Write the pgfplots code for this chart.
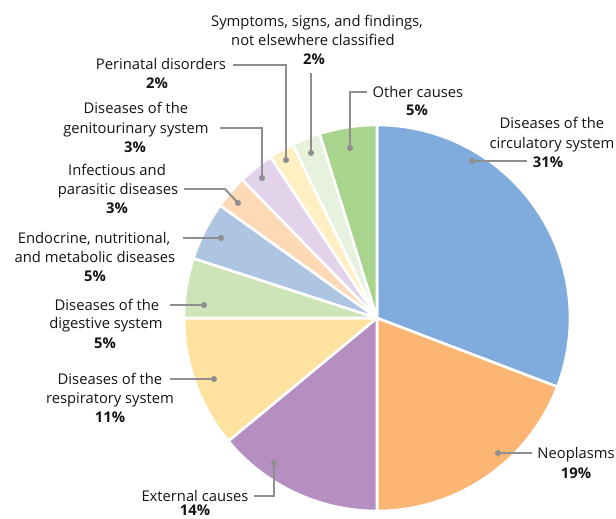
\documentclass[border=0pt]{standalone}
\usepackage{pgfplots}
\usepackage{pgfplotstable}
\pgfplotsset{compat=1.18}
\usepackage{fontspec}
\setmainfont{Open Sans}

\definecolor{cCirc}{HTML}{7FABDD}
\definecolor{cNeo}{HTML}{FBB673}
\definecolor{cExt}{HTML}{B68FC1}
\definecolor{cResp}{HTML}{FFE2A0}
\definecolor{cDig}{HTML}{CDE4B8}
\definecolor{cEndo}{HTML}{ADC4E2}
\definecolor{cInf}{HTML}{FDD9B5}
\definecolor{cGen}{HTML}{E2D3EA}
\definecolor{cPeri}{HTML}{FFEFC2}
\definecolor{cSymp}{HTML}{E7F2DE}
\definecolor{cOther}{HTML}{A9D48E}
\definecolor{leader}{HTML}{8E8E8E}
\definecolor{txt}{HTML}{141414}

% share of deaths, clockwise from 12 o'clock
\pgfplotstableread[col sep=comma]{
value,color
30.8,cCirc
19.2,cNeo
14.0,cExt
11.0,cResp
5.0,cDig
4.9,cEndo
2.8,cInf
3.0,cGen
2.1,cPeri
2.4,cSymp
4.8,cOther
}\piedata

\newcommand{\R}{5.79cm}
\newcommand{\lbl}[3]{\node[anchor=base,text=txt,font=\fontsize{12.6}{15}\selectfont,inner sep=0pt] at (axis cs:#1,{#2+5}) {#3};}
\newcommand{\dotl}[1]{\fill[leader] (axis cs:#1) circle[radius=2.6pt];}

\begin{document}
\begin{tikzpicture}
  \begin{axis}[
      scale only axis,
      width=18.48cm, height=15.57cm,
      xmin=0, xmax=616, ymin=0, ymax=519,
      y dir=reverse,
      hide axis,
      clip=false,
    ]
    \def\cum{0}
    \pgfplotsforeachungrouped \i in {0,...,10}{%
      \pgfplotstablegetelem{\i}{value}\of\piedata \let\v\pgfplotsretval
      \pgfplotstablegetelem{\i}{color}\of\piedata \let\c\pgfplotsretval
      \pgfmathsetmacro\a{90-3.6*\cum}
      \pgfmathsetmacro\b{90-3.6*(\cum+\v)}
      \edef\temp{\noexpand\fill[\c, draw=white, line width=2.2pt, line join=round]
        (axis cs:377,318) -- ++(\a:\R) arc[start angle=\a, end angle=\b, radius=\R] -- cycle;}
      \temp
      \pgfmathsetmacro\cum{\cum+\v}
    }

    % leader lines
    \begin{scope}[leader, line width=1.7pt]
      \draw (axis cs:472,161) -- (axis cs:527,161);
      \draw (axis cs:498,453) -- (axis cs:532,453);
      \draw (axis cs:274,463) -- (axis cs:274,496) -- (axis cs:254,496);
      \draw (axis cs:214,379) -- (axis cs:170,379);
      \draw (axis cs:204,305) -- (axis cs:170,305);
      \draw (axis cs:221,238) -- (axis cs:183,238);
      \draw (axis cs:238,203) -- (axis cs:225,189) -- (axis cs:184,189);
      \draw (axis cs:262,178) -- (axis cs:262,128) -- (axis cs:220,128);
      \draw (axis cs:286,160) -- (axis cs:286,65) -- (axis cs:233,65);
      \draw (axis cs:311,153) -- (axis cs:311,73);
      \draw (axis cs:350,148) -- (axis cs:350,92) -- (axis cs:367,92);
    \end{scope}
    \dotl{472,161}\dotl{498,453}\dotl{274,463}\dotl{214,379}\dotl{204,305}
    \dotl{221,238}\dotl{238,203}\dotl{262,178}\dotl{286,160}\dotl{311,153}\dotl{350,148}

    % labels
    \lbl{552}{124}{Diseases of the}
    \lbl{552}{143}{circulatory system}
    \lbl{548}{162}{\bfseries 31\%}
    \lbl{576}{453}{Neoplasms}
    \lbl{576}{473}{\bfseries 19\%}
    \lbl{195}{496}{External causes}
    \lbl{195}{510}{\bfseries 14\%}
    \lbl{110}{379}{Diseases of the}
    \lbl{110}{398}{respiratory system}
    \lbl{110}{417}{\bfseries 11\%}
    \lbl{107}{305}{Diseases of the}
    \lbl{106}{323}{digestive system}
    \lbl{105}{343}{\bfseries 5\%}
    \lbl{94}{238}{Endocrine, nutritional,}
    \lbl{95}{257}{and metabolic diseases}
    \lbl{95}{276}{\bfseries 5\%}
    \lbl{117}{170}{Infectious and}
    \lbl{118}{189}{parasitic diseases}
    \lbl{117}{208}{\bfseries 3\%}
    \lbl{136}{109}{Diseases of the}
    \lbl{136}{128}{genitourinary system}
    \lbl{135}{147}{\bfseries 3\%}
    \lbl{161}{65}{Perinatal disorders}
    \lbl{157}{84}{\bfseries 2\%}
    \lbl{317}{22}{Symptoms, signs, and findings,}
    \lbl{313}{41}{not elsewhere classified}
    \lbl{314}{60}{\bfseries 2\%}
    \lbl{418}{92}{Other causes}
    \lbl{417}{111}{\bfseries 5\%}
  \end{axis}
  \pgfresetboundingbox
  \path[use as bounding box] (current axis.south west) rectangle (current axis.north east);
\end{tikzpicture}
\end{document}
